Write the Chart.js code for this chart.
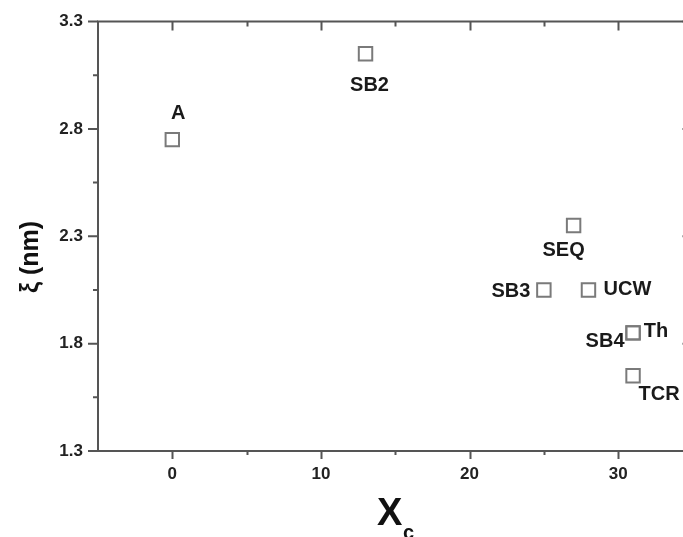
<!DOCTYPE html>
<html>
<head>
<meta charset="utf-8">
<script src="https://cdn.jsdelivr.net/npm/chart.js@4/dist/chart.umd.min.js"></script>
<style>
  html, body { margin: 0; padding: 0; background: #fff; overflow: hidden; }
  #wrap { width: 704px; height: 537px; }
</style>
</head>
<body>
<div id="wrap"><canvas id="myChart" width="704" height="537"></canvas></div>
<script>
// samples
const names = ['A', 'SB2', 'SEQ', 'SB3', 'UCW', 'SB4', 'Th', 'TCR'];
const xcValues = [0, 13, 27, 25, 28, 31, 31, 31];
const xiValues = [2.75, 3.15, 2.35, 2.05, 2.05, 1.85, 1.85, 1.65];

const xTicks = [0, 10, 20, 30];
const xMinor = [5, 15, 25];
const yTicks = [1.3, 1.8, 2.3, 2.8, 3.3];
const yMinor = [1.55, 2.05, 2.55, 3.05];

// where each name sits relative to its square (px)
const labelOffsets = [[6, -27], [4, 31], [-10, 24], [-33, 1], [39, -1], [-28, 8], [23, -2], [26, 18]];

const FONT = "'Liberation Sans', Arial, sans-serif";
const AXIS = '#555';

const framePlugin = {
    id: 'frame',
    afterDatasetsDraw(chart) {
        const ctx = chart.ctx;
        const a = chart.chartArea;
        const xs = chart.scales.x, ys = chart.scales.y;
        ctx.save();
        ctx.strokeStyle = AXIS;
        ctx.lineWidth = 2;
        ctx.strokeRect(a.left, a.top, a.right - a.left, a.bottom - a.top);

        ctx.beginPath();
        const tickX = (v, len) => {
            const px = Math.round(xs.getPixelForValue(v)) + 0.5;
            ctx.moveTo(px, a.bottom); ctx.lineTo(px, a.bottom + len);
            ctx.moveTo(px, a.top); ctx.lineTo(px, a.top + len + 1);
        };
        const tickY = (v, len) => {
            const py = ys.getPixelForValue(v);
            ctx.moveTo(a.left, py); ctx.lineTo(a.left - len - 1, py);
            ctx.moveTo(a.right, py); ctx.lineTo(a.right - len - 1, py);
        };
        xTicks.forEach(v => tickX(v, 8));
        xMinor.forEach(v => tickX(v, 4));
        yTicks.forEach(v => tickY(v, 9));
        yMinor.forEach(v => tickY(v, 4));
        ctx.stroke();

        // point names
        const meta = chart.getDatasetMeta(0);
        ctx.fillStyle = '#1a1a1a';
        ctx.font = 'bold 20px ' + FONT;
        ctx.textAlign = 'center';
        ctx.textBaseline = 'middle';
        meta.data.forEach((pt, i) => {
            ctx.fillText(names[i], pt.x + labelOffsets[i][0], pt.y + labelOffsets[i][1] + 1);
        });

        // axis titles
        ctx.fillStyle = '#111';
        ctx.font = 'bold 38px ' + FONT;
        ctx.textAlign = 'left';
        ctx.textBaseline = 'alphabetic';
        ctx.fillText('X', 377, 525);
        ctx.font = 'bold 20px ' + FONT;
        ctx.fillText('c', 403, 539);

        ctx.save();
        ctx.translate(38, 257);
        ctx.rotate(-Math.PI / 2);
        ctx.textAlign = 'center';
        ctx.font = 'bold 25px ' + FONT;
        ctx.fillText('\u03be (nm)', 0, 0);
        ctx.restore();

        ctx.restore();
    }
};

const ctx = document.getElementById('myChart').getContext('2d');
new Chart(ctx, {
    type: 'scatter',
    data: {
        datasets: [{
            data: xcValues.map((x, i) => ({ x: x, y: xiValues[i] })),
            pointStyle: 'rect',
            pointRadius: 9.5,
            pointBorderWidth: 2,
            pointBorderColor: '#7a7a7a',
            pointBackgroundColor: 'rgba(255,255,255,0)'
        }]
    },
    options: {
        responsive: false,
        animation: false,
        // right side is held by the point overflow (11.5px), so the frame's right edge
        // lands just past the visible window like in the original
        layout: { padding: { top: 21.5, right: 0, left: 0, bottom: 0 } },
        plugins: { legend: { display: false }, tooltip: { enabled: false } },
        scales: {
            x: {
                type: 'linear',
                min: -5,
                max: 35,
                grid: { display: false, drawTicks: false },
                border: { display: false },
                afterBuildTicks: s => { s.ticks = xTicks.map(v => ({ value: v })); },
                afterFit: s => { s.height = 86; s.paddingLeft = 0; s.paddingRight = 0; },
                ticks: {
                    padding: 13,
                    color: '#222',
                    font: { family: FONT, size: 17, weight: 'bold' }
                }
            },
            y: {
                type: 'linear',
                min: 1.3,
                max: 3.3,
                grid: { display: false, drawTicks: false },
                border: { display: false },
                afterBuildTicks: s => { s.ticks = yTicks.map(v => ({ value: v })); },
                afterFit: s => { s.width = 98; s.paddingTop = 0; s.paddingBottom = 0; },
                ticks: {
                    padding: 15,
                    color: '#222',
                    font: { family: FONT, size: 17, weight: 'bold' },
                    callback: v => Number(v).toFixed(1)
                }
            }
        }
    },
    plugins: [framePlugin]
});
</script>
</body>
</html>
